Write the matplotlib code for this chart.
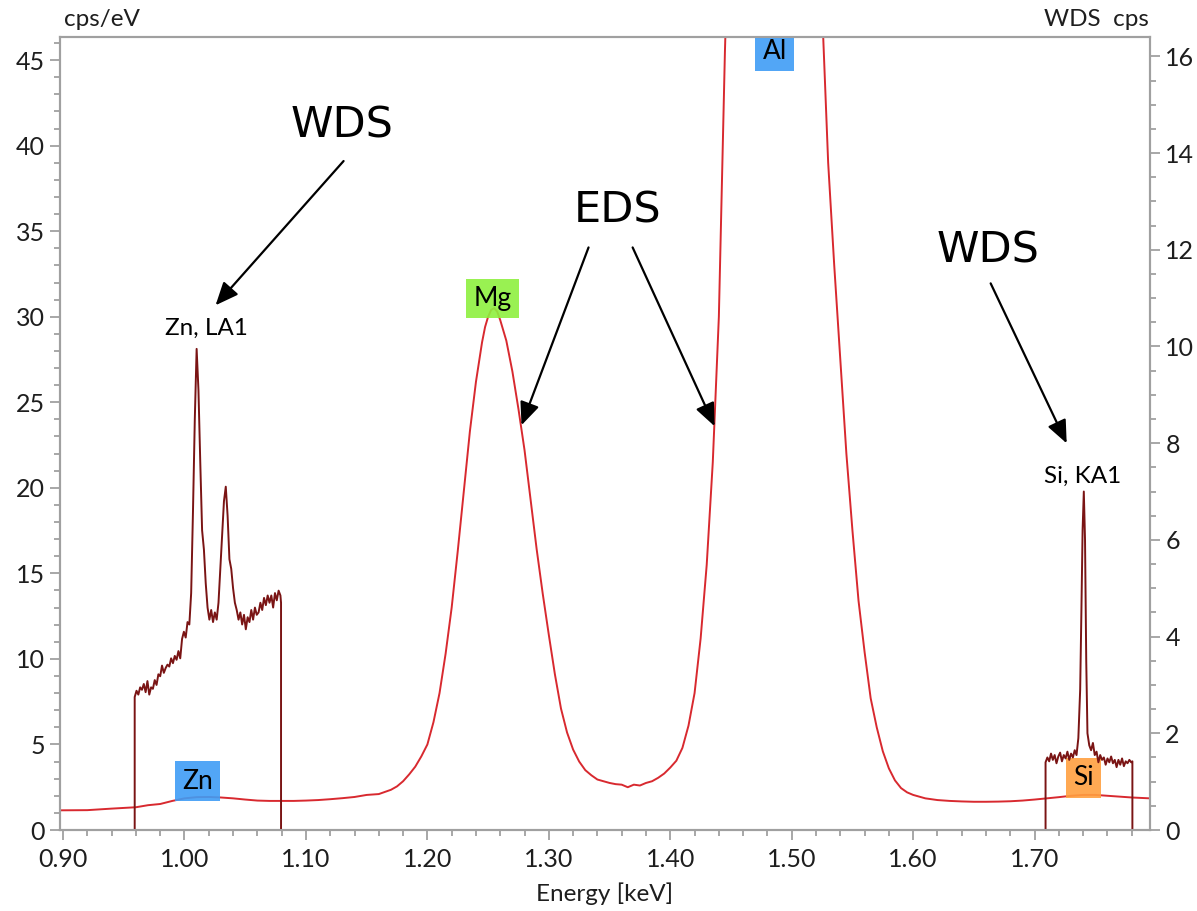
import matplotlib
matplotlib.use('Agg')
import matplotlib.pyplot as plt
from matplotlib.ticker import MultipleLocator, FormatStrFormatter

plt.rcParams['font.family'] = ['Lato', 'DejaVu Sans']

# ---------------- data ----------------
# EDS spectrum (left axis, cps/eV)
eds_energy = [0.8975, 0.92, 0.94, 0.96, 0.97, 0.98, 0.99, 1.00, 1.01, 1.02, 1.03, 1.04,
              1.05, 1.06, 1.07, 1.08, 1.09, 1.10, 1.11, 1.12, 1.13, 1.14, 1.15, 1.16,
              1.17, 1.175, 1.18, 1.185, 1.19, 1.195, 1.20, 1.205, 1.21, 1.215, 1.22,
              1.225, 1.23, 1.235, 1.24, 1.245, 1.2475, 1.25, 1.2525, 1.255, 1.2575,
              1.26, 1.265, 1.27, 1.275,
              1.28, 1.285, 1.29, 1.295, 1.30, 1.305, 1.31, 1.315, 1.32, 1.325, 1.33,
              1.335, 1.34, 1.345, 1.35, 1.355, 1.36, 1.365, 1.37, 1.375, 1.38, 1.385,
              1.39, 1.395, 1.40, 1.405, 1.41, 1.415, 1.42, 1.425, 1.43, 1.435, 1.44,
              1.445, 1.45, 1.46, 1.47, 1.48, 1.487, 1.495, 1.505, 1.515, 1.525, 1.53,
              1.535, 1.54, 1.545, 1.55, 1.555, 1.56, 1.565, 1.57, 1.575, 1.58, 1.585,
              1.59, 1.595, 1.60, 1.61, 1.62, 1.63, 1.64, 1.65, 1.66, 1.67, 1.68, 1.69, 1.70,
              1.71, 1.72, 1.73, 1.74, 1.75, 1.76, 1.77, 1.78, 1.795]
eds_counts = [1.15, 1.16, 1.25, 1.33, 1.45, 1.52, 1.70, 1.85, 1.92, 1.93, 1.90, 1.85,
              1.78, 1.72, 1.70, 1.70, 1.70, 1.72, 1.75, 1.80, 1.86, 1.93, 2.05, 2.10,
              2.35, 2.55, 2.85, 3.25, 3.7, 4.3, 5.0, 6.3, 8.0, 10.3, 13.0,
              16.3, 19.8, 23.3, 26.2, 28.5, 29.4, 30.0, 30.4, 30.5, 30.3,
              29.8, 28.6, 26.8, 24.6,
              22.2, 19.3, 16.4, 13.8, 11.4, 9.1, 7.1, 5.7, 4.7, 4.0, 3.5,
              3.2, 2.95, 2.85, 2.75, 2.68, 2.65, 2.5, 2.65, 2.6, 2.75, 2.85,
              3.05, 3.3, 3.65, 4.05, 4.8, 6.1, 8.0, 11.2, 15.5, 21.5, 30.0,
              45.5, 58.0, 90.0, 120.0, 140.0, 145.0, 140.0, 120.0, 85.0, 48.0, 39.0,
              33.0, 27.5, 22.0, 17.5, 13.4, 10.4, 7.7, 6.0, 4.6, 3.6, 2.9,
              2.45, 2.2, 2.05, 1.85, 1.75, 1.70, 1.67, 1.65, 1.65, 1.66, 1.68, 1.72, 1.78,
              1.85, 1.92, 2.00, 2.05, 2.05, 2.00, 1.95, 1.90, 1.85]

# WDS scan over Zn L-alpha (right axis, cps)
zn_energy = [0.9590, 0.9590, 0.9605, 0.9620, 0.9635, 0.9650, 0.9665, 0.9680, 0.9695,
             0.9710, 0.9725, 0.9740, 0.9755, 0.9770, 0.9785, 0.9800, 0.9815, 0.9830,
             0.9845, 0.9860, 0.9875, 0.9890, 0.9905, 0.9920, 0.9935, 0.9950, 0.9965,
             0.9980, 0.9995, 1.0010, 1.0025, 1.0040, 1.0055, 1.0070, 1.0085, 1.0100,
             1.0115, 1.0130, 1.0145, 1.0160, 1.0175, 1.0190, 1.0205, 1.0220, 1.0235,
             1.0250, 1.0265, 1.0280, 1.0295, 1.0310, 1.0325, 1.0340, 1.0355, 1.0370,
             1.0385, 1.0400, 1.0415, 1.0430, 1.0445, 1.0460, 1.0475, 1.0490, 1.0505,
             1.0520, 1.0535, 1.0550, 1.0565, 1.0580, 1.0595, 1.0610, 1.0625, 1.0640,
             1.0655, 1.0670, 1.0685, 1.0700, 1.0715, 1.0730, 1.0745, 1.0760, 1.0775,
             1.0790, 1.0795, 1.0795]
zn_counts = [0.00, 2.75, 2.88, 2.80, 2.95, 2.90, 3.02, 2.85, 3.08,
             2.80, 2.95, 2.92, 3.10, 3.00, 3.22, 3.18, 3.40, 3.25,
             3.35, 3.42, 3.38, 3.55, 3.45, 3.60, 3.52, 3.70, 3.55,
             3.95, 4.10, 3.98, 4.30, 4.25, 4.90, 6.60, 8.50, 9.95,
             9.10, 7.60, 6.20, 5.80, 5.10, 4.60, 4.35, 4.55, 4.30,
             4.50, 4.35, 4.70, 5.40, 6.10, 6.80, 7.10, 6.50, 5.60,
             5.40, 5.00, 4.70, 4.55, 4.35, 4.50, 4.25, 4.45, 4.15,
             4.40, 4.30, 4.55, 4.35, 4.60, 4.45, 4.50, 4.70, 4.55,
             4.80, 4.65, 4.85, 4.70, 4.85, 4.60, 4.90, 4.75, 4.95,
             4.85, 4.70, 0.00]

# WDS scan over Si K-alpha (right axis, cps)
si_energy = [1.7090, 1.7090, 1.7105, 1.7120, 1.7135, 1.7150, 1.7165, 1.7180, 1.7195,
             1.7210, 1.7225, 1.7240, 1.7255, 1.7270, 1.7285, 1.7300, 1.7315, 1.7330,
             1.7345, 1.7360, 1.7375, 1.7385, 1.7395, 1.7405, 1.7415, 1.7425, 1.7435,
             1.7450, 1.7465, 1.7480, 1.7495, 1.7510, 1.7525, 1.7540, 1.7555, 1.7570,
             1.7585, 1.7600, 1.7615, 1.7630, 1.7645, 1.7660, 1.7675, 1.7690, 1.7705,
             1.7720, 1.7735, 1.7750, 1.7765, 1.7780, 1.7795, 1.7805, 1.7805]
si_counts = [0.00, 1.40, 1.50, 1.42, 1.58, 1.45, 1.55, 1.38, 1.52,
             1.60, 1.42, 1.55, 1.48, 1.62, 1.45, 1.58, 1.50, 1.65,
             1.55, 1.90, 2.90, 4.50, 6.20, 7.00, 6.00, 3.50, 2.00,
             1.75, 1.65, 1.80, 1.55, 1.62, 1.40, 1.55, 1.45, 1.50,
             1.35, 1.48, 1.40, 1.52, 1.38, 1.45, 1.30, 1.45, 1.35,
             1.48, 1.32, 1.42, 1.38, 1.45, 1.40, 1.42, 0.00]

# element marker boxes: label, energy, height (cps/eV), colour
box_labels = ['Zn', 'Mg', 'Al', 'Si']
box_energy = [1.0109, 1.2537, 1.486, 1.7402]
box_height = [2.86, 31.07, 45.5, 3.05]
box_colors = ['#3f9df5', '#8ef03f', '#3f9df5', '#ffa040']

# ---------------- figure ----------------
W, H = 1197, 911
fig = plt.figure(figsize=(W / 100, H / 100), dpi=100)
ax = fig.add_axes([60 / W, 81 / H, 1090 / W, 793 / H])
ax2 = ax.twinx()

eds_color = '#d8292f'
wds_color = '#7a1414'
grey = '#a0a0a0'
txt = '#1e1e1e'

ax.plot(eds_energy, eds_counts, color=eds_color, lw=1.4, zorder=2)
ax2.plot(zn_energy, zn_counts, color=wds_color, lw=1.4, zorder=2)
ax2.plot(si_energy, si_counts, color=wds_color, lw=1.4, zorder=2)

ax.set_xlim(0.8975, 1.795)
ax.set_ylim(0, 46.35)
ax2.set_ylim(0, 16.4)

ax.xaxis.set_major_locator(MultipleLocator(0.1))
ax.xaxis.set_minor_locator(MultipleLocator(0.02))
ax.xaxis.set_major_formatter(FormatStrFormatter('%.2f'))
ax.yaxis.set_major_locator(MultipleLocator(5))
ax.yaxis.set_minor_locator(MultipleLocator(1))
ax2.yaxis.set_major_locator(MultipleLocator(2))
ax2.yaxis.set_minor_locator(MultipleLocator(0.5))

for a in (ax, ax2):
    for s in a.spines.values():
        s.set_color(grey)
        s.set_linewidth(1.5)
    a.tick_params(which='major', length=7, width=1.3, color=grey,
                  labelsize=18, labelcolor=txt, direction='out')
    a.tick_params(which='minor', length=4.5, width=1.3, color=grey, direction='out')
ax.tick_params(axis='x', which='major', pad=6)
ax.tick_params(axis='y', which='major', pad=4)
ax2.tick_params(axis='y', which='major', pad=4)

ax.set_xlabel('Energy [keV]', fontsize=17.5, color=txt)
ax.xaxis.set_label_coords(0.5, -0.066)

fig.text(64 / W, 1 - 19 / H, 'cps/eV', fontsize=17.5, color=txt, ha='left', va='center')
fig.text(1149 / W, 1 - 19 / H, 'WDS  cps', fontsize=17.5, color=txt, ha='right', va='center')

# element boxes
for lab, e, h, c in zip(box_labels, box_energy, box_height, box_colors):
    ax.text(e, h, lab, fontsize=19, color='black', ha='center', va='center',
            zorder=5, clip_on=True,
            bbox=dict(boxstyle='square,pad=0.28', fc=c, ec='none', alpha=0.9))

# line labels
ax.text(1.0182, 29.3, 'Zn, LA1', fontsize=17.5, color='black', ha='center', va='center')
ax.text(1.7395, 20.7, 'Si, KA1', fontsize=17.5, color='black', ha='center', va='center')

# big annotations
big = dict(fontsize=31, color='black', ha='center', va='center', family='DejaVu Sans')
ax.text(1.130, 41.2, 'WDS', **big)
ax.text(1.3566, 36.2, 'EDS', **big)
ax.text(1.662, 33.9, 'WDS', **big)

arrow = dict(arrowstyle='-|>,head_length=0.7,head_width=0.3', color='black', lw=1.6,
             mutation_scale=20, shrinkA=0, shrinkB=0)
ax.annotate('', xy=(1.0256, 30.67), xytext=(1.131, 39.1), arrowprops=arrow)
ax.annotate('', xy=(1.2775, 23.66), xytext=(1.3327, 34.05), arrowprops=arrow)
ax.annotate('', xy=(1.4365, 23.6), xytext=(1.369, 34.05), arrowprops=arrow)
ax.annotate('', xy=(1.7264, 22.6), xytext=(1.6638, 31.95), arrowprops=arrow)

fig.savefig('out.png', dpi=100)
